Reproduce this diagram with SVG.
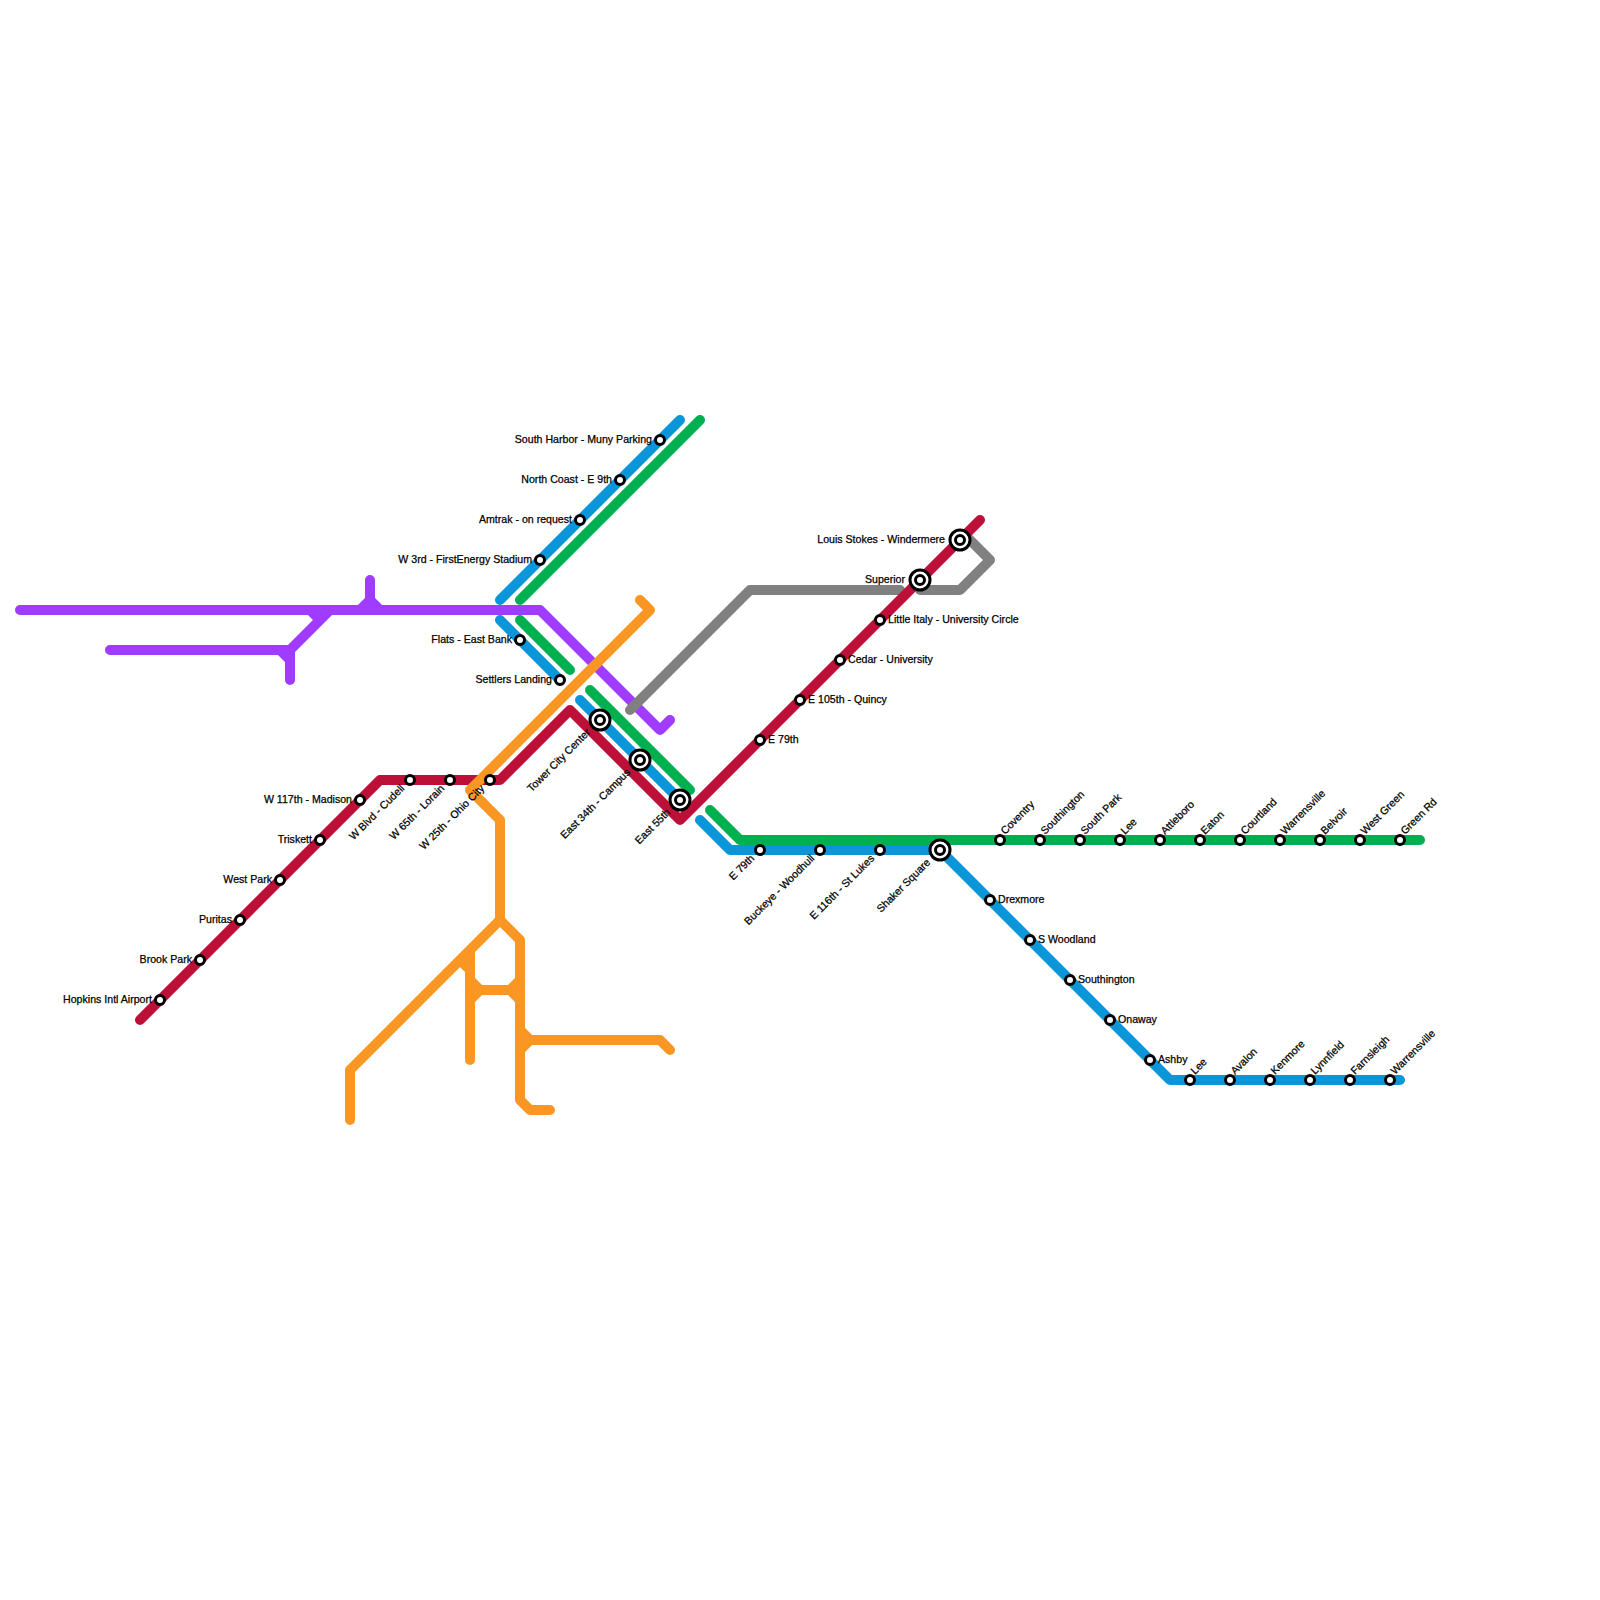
<svg xmlns="http://www.w3.org/2000/svg" width="1600" height="1600" viewBox="0 0 1600 1600">
<style>
.l{fill:none;stroke-width:10;stroke-linecap:round;stroke-linejoin:round}
.p{stroke:#a03cff}.g{stroke:#808080}.b{stroke:#0a96d8}.n{stroke:#00b050}.r{stroke:#bd1038}.o{stroke:#fa9623}
.s{fill:#fff;stroke:#000;stroke-width:3}
.i{fill:#fff;stroke:#000;stroke-width:3}
text{font-family:"Liberation Sans",Arial,sans-serif;font-size:10.6px;fill:#000;stroke:#000;stroke-width:.25}
.e{text-anchor:end}
</style>
<g id="connectors">
<path class="l p" d="M20 610H540L660 730L670 720M370 580V600L360 610M370 600L380 610M330 610L290 650H110M290 650V680M280 650L290 660M310 610L320 620"/>
<path class="l b" d="M680 420L500 600M500 620L560 680M580 700L680 800M700 820L730 850H940L1170 1080H1400"/>
<path class="l n" d="M700 420L520 600M520 620L570 670M590 690L690 790M710 810L740 840H1420"/>
<path class="l g" d="M630 710L750 590H900M920 590H960L990 560L965 535"/>
<path class="l r" d="M140 1020L380 780H500L570 710L680 820L980 520"/>
<path class="l o" d="M640 600L650 610L470 790L500 820V920L350 1070V1120M500 920L520 940V1100L530 1110H550M470 950V1060M460 960L470 970M470 980L480 990L470 1000M480 990H510L520 980M510 990L520 1000M520 1030L530 1040L520 1050M530 1040H660L670 1050"/>
</g>
<g id="stations">
<g id="st-hopkins"><circle class="s" cx="160" cy="1000" r="4.5"/><text class="e" x="152" y="1003">Hopkins Intl Airport</text></g>
<g id="st-brookpark"><circle class="s" cx="200" cy="960" r="4.5"/><text class="e" x="192" y="963">Brook Park</text></g>
<g id="st-puritas"><circle class="s" cx="240" cy="920" r="4.5"/><text class="e" x="232" y="923">Puritas</text></g>
<g id="st-westpark"><circle class="s" cx="280" cy="880" r="4.5"/><text class="e" x="272" y="883">West Park</text></g>
<g id="st-triskett"><circle class="s" cx="320" cy="840" r="4.5"/><text class="e" x="312" y="843">Triskett</text></g>
<g id="st-w117"><circle class="s" cx="360" cy="800" r="4.5"/><text class="e" x="352" y="803">W 117th - Madison</text></g>
<g id="st-wblvd"><circle class="s" cx="410" cy="780" r="4.5"/><text class="e" transform="translate(405,789) rotate(-45)">W Blvd - Cudell</text></g>
<g id="st-w65"><circle class="s" cx="450" cy="780" r="4.5"/><text class="e" transform="translate(445,789) rotate(-45)">W 65th - Lorain</text></g>
<g id="st-w25"><circle class="s" cx="490" cy="780" r="4.5"/><text class="e" transform="translate(485,789) rotate(-45)">W 25th - Ohio City</text></g>
<g id="st-tower"><circle class="i" cx="600" cy="720" r="10"/><circle class="i" cx="600" cy="720" r="4.5"/><text class="e" transform="translate(591,733) rotate(-45)">Tower City Center</text></g>
<g id="st-e34"><circle class="i" cx="640" cy="760" r="10"/><circle class="i" cx="640" cy="760" r="4.5"/><text class="e" transform="translate(631,773) rotate(-45)">East 34th - Campus</text></g>
<g id="st-e55"><circle class="i" cx="680" cy="800" r="10"/><circle class="i" cx="680" cy="800" r="4.5"/><text class="e" transform="translate(671,813) rotate(-45)">East 55th</text></g>
<g id="st-e79r"><circle class="s" cx="760" cy="740" r="4.5"/><text x="768" y="743">E 79th</text></g>
<g id="st-e105"><circle class="s" cx="800" cy="700" r="4.5"/><text x="808" y="703">E 105th - Quincy</text></g>
<g id="st-cedar"><circle class="s" cx="840" cy="660" r="4.5"/><text x="848" y="663">Cedar - University</text></g>
<g id="st-little"><circle class="s" cx="880" cy="620" r="4.5"/><text x="888" y="623">Little Italy - University Circle</text></g>
<g id="st-superior"><circle class="i" cx="920" cy="580" r="10"/><circle class="i" cx="920" cy="580" r="4.5"/><text class="e" x="905" y="583">Superior</text></g>
<g id="st-stokes"><circle class="i" cx="960" cy="540" r="10"/><circle class="i" cx="960" cy="540" r="4.5"/><text class="e" x="945" y="543">Louis Stokes - Windermere</text></g>
<g id="st-harbor"><circle class="s" cx="660" cy="440" r="4.5"/><text class="e" x="652" y="443">South Harbor - Muny Parking</text></g>
<g id="st-north"><circle class="s" cx="620" cy="480" r="4.5"/><text class="e" x="612" y="483">North Coast - E 9th</text></g>
<g id="st-amtrak"><circle class="s" cx="580" cy="520" r="4.5"/><text class="e" x="572" y="523">Amtrak - on request</text></g>
<g id="st-w3"><circle class="s" cx="540" cy="560" r="4.5"/><text class="e" x="532" y="563">W 3rd - FirstEnergy Stadium</text></g>
<g id="st-flats"><circle class="s" cx="520" cy="640" r="4.5"/><text class="e" x="512" y="643">Flats - East Bank</text></g>
<g id="st-settlers"><circle class="s" cx="560" cy="680" r="4.5"/><text class="e" x="552" y="683">Settlers Landing</text></g>
<g id="st-e79b"><circle class="s" cx="760" cy="850" r="4.5"/><text class="e" transform="translate(755,859) rotate(-45)">E 79th</text></g>
<g id="st-buckeye"><circle class="s" cx="820" cy="850" r="4.5"/><text class="e" transform="translate(815,859) rotate(-45)">Buckeye - Woodhull</text></g>
<g id="st-e116"><circle class="s" cx="880" cy="850" r="4.5"/><text class="e" transform="translate(875,859) rotate(-45)">E 116th - St Lukes</text></g>
<g id="st-shaker"><circle class="i" cx="940" cy="850" r="10"/><circle class="i" cx="940" cy="850" r="4.5"/><text class="e" transform="translate(931,863) rotate(-45)">Shaker Square</text></g>
<g id="st-drexmore"><circle class="s" cx="990" cy="900" r="4.5"/><text x="998" y="903">Drexmore</text></g>
<g id="st-swood"><circle class="s" cx="1030" cy="940" r="4.5"/><text x="1038" y="943">S Woodland</text></g>
<g id="st-south1"><circle class="s" cx="1070" cy="980" r="4.5"/><text x="1078" y="983">Southington</text></g>
<g id="st-onaway"><circle class="s" cx="1110" cy="1020" r="4.5"/><text x="1118" y="1023">Onaway</text></g>
<g id="st-ashby"><circle class="s" cx="1150" cy="1060" r="4.5"/><text x="1158" y="1063">Ashby</text></g>
<g id="st-lee1"><circle class="s" cx="1190" cy="1080" r="4.5"/><text transform="translate(1195,1075) rotate(-45)">Lee</text></g>
<g id="st-avalon"><circle class="s" cx="1230" cy="1080" r="4.5"/><text transform="translate(1235,1075) rotate(-45)">Avalon</text></g>
<g id="st-kenmore"><circle class="s" cx="1270" cy="1080" r="4.5"/><text transform="translate(1275,1075) rotate(-45)">Kenmore</text></g>
<g id="st-lynn"><circle class="s" cx="1310" cy="1080" r="4.5"/><text transform="translate(1315,1075) rotate(-45)">Lynnfield</text></g>
<g id="st-farn"><circle class="s" cx="1350" cy="1080" r="4.5"/><text transform="translate(1355,1075) rotate(-45)">Farnsleigh</text></g>
<g id="st-warr1"><circle class="s" cx="1390" cy="1080" r="4.5"/><text transform="translate(1395,1075) rotate(-45)">Warrensville</text></g>
<g id="st-coventry"><circle class="s" cx="1000" cy="840" r="4.5"/><text transform="translate(1005,835) rotate(-45)">Coventry</text></g>
<g id="st-south2"><circle class="s" cx="1040" cy="840" r="4.5"/><text transform="translate(1045,835) rotate(-45)">Southington</text></g>
<g id="st-spark"><circle class="s" cx="1080" cy="840" r="4.5"/><text transform="translate(1085,835) rotate(-45)">South Park</text></g>
<g id="st-lee2"><circle class="s" cx="1120" cy="840" r="4.5"/><text transform="translate(1125,835) rotate(-45)">Lee</text></g>
<g id="st-attle"><circle class="s" cx="1160" cy="840" r="4.5"/><text transform="translate(1165,835) rotate(-45)">Attleboro</text></g>
<g id="st-eaton"><circle class="s" cx="1200" cy="840" r="4.5"/><text transform="translate(1205,835) rotate(-45)">Eaton</text></g>
<g id="st-court"><circle class="s" cx="1240" cy="840" r="4.5"/><text transform="translate(1245,835) rotate(-45)">Courtland</text></g>
<g id="st-warr2"><circle class="s" cx="1280" cy="840" r="4.5"/><text transform="translate(1285,835) rotate(-45)">Warrensville</text></g>
<g id="st-belvoir"><circle class="s" cx="1320" cy="840" r="4.5"/><text transform="translate(1325,835) rotate(-45)">Belvoir</text></g>
<g id="st-wgreen"><circle class="s" cx="1360" cy="840" r="4.5"/><text transform="translate(1365,835) rotate(-45)">West Green</text></g>
<g id="st-grn"><circle class="s" cx="1400" cy="840" r="4.5"/><text transform="translate(1405,835) rotate(-45)">Green Rd</text></g>
</g>
</svg>
